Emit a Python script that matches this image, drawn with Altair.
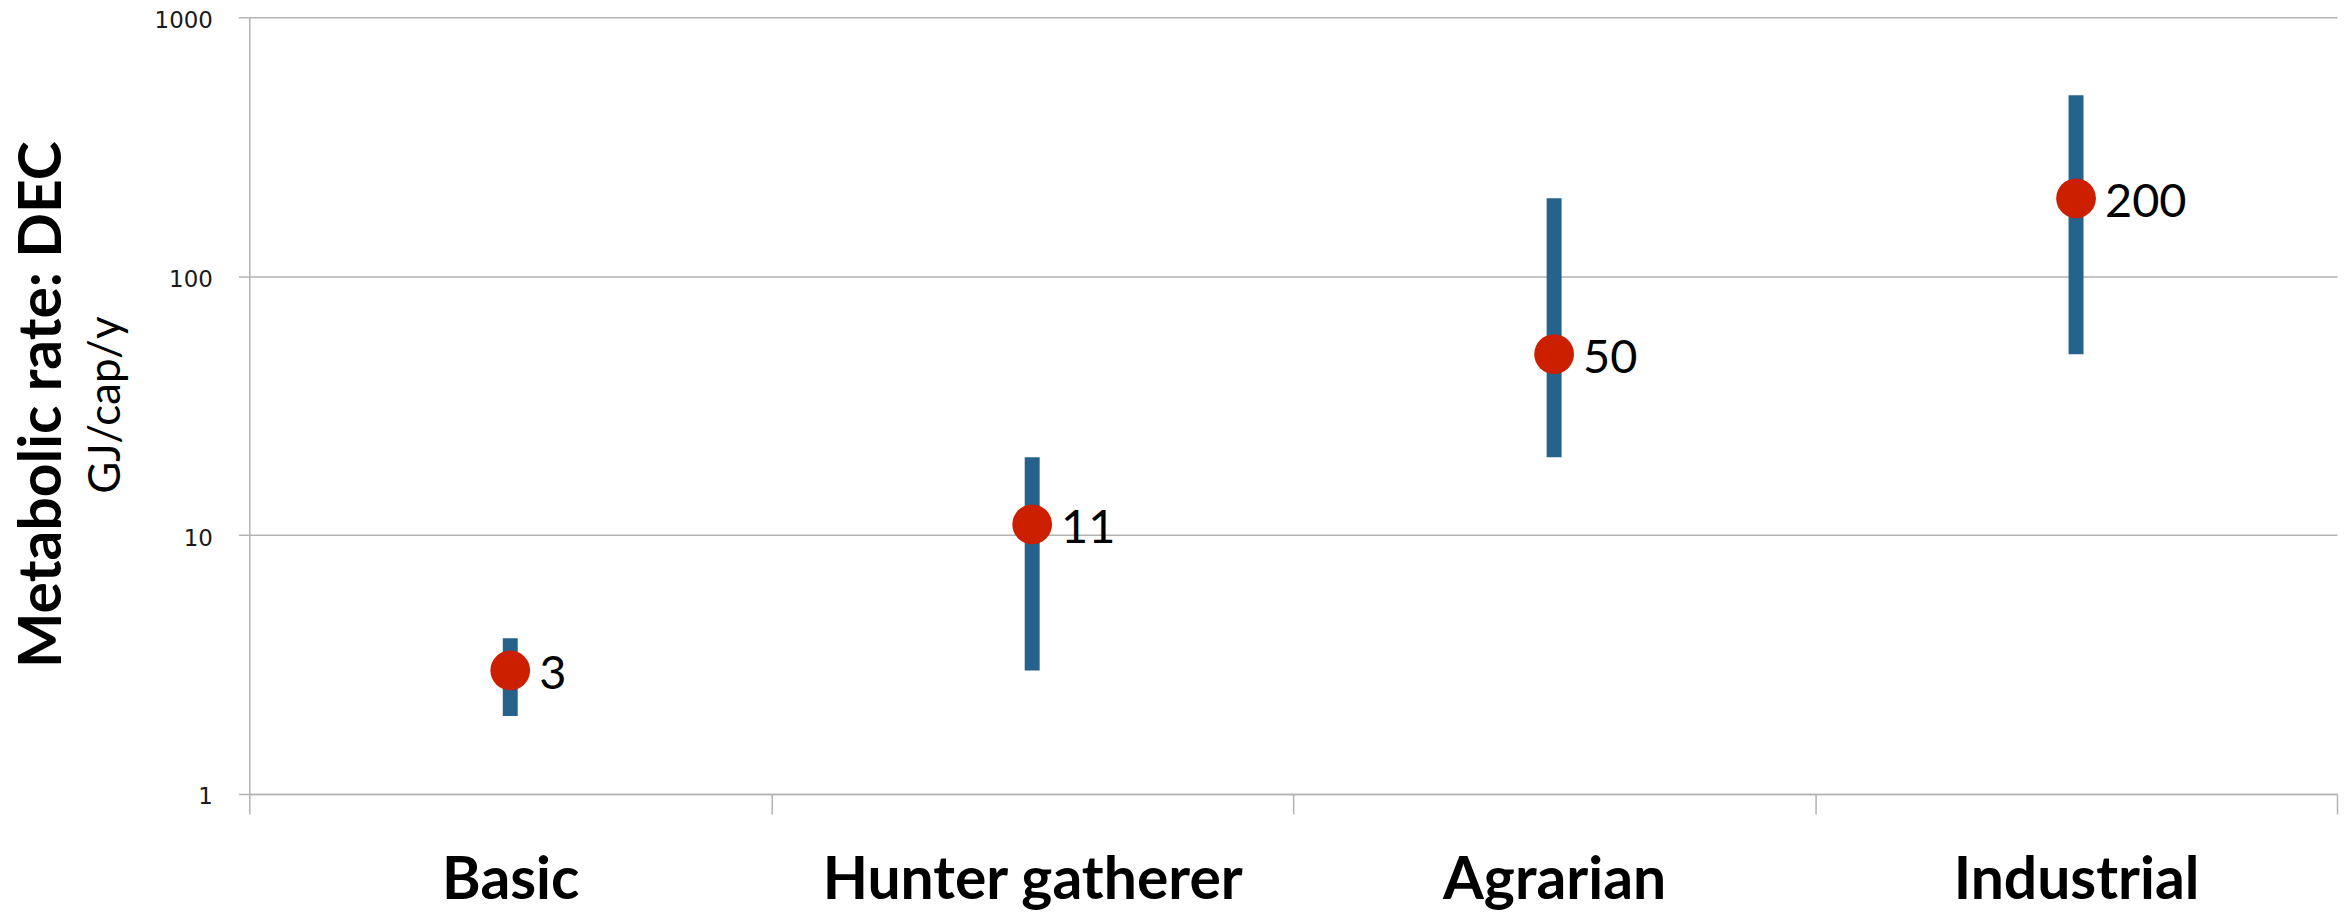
import altair as alt
import pandas as pd

categories = ["Basic", "Hunter gatherer", "Agrarian", "Industrial"]
central = [3, 11, 50, 200]
low = [2, 3, 20, 50]
high = [4, 20, 200, 500]
value_labels = ["3", "11", "50", "200"]
y_ticks = [1, 10, 100, 1000]

df = pd.DataFrame({
    "category": categories,
    "central": central,
    "low": low,
    "high": high,
    "label": value_labels,
})

BLUE = "#26638c"
RED = "#cc1f00"
GRID = "#b3b3b3"

x_enc = alt.X(
    "category:N",
    sort=categories,
    scale=alt.Scale(type="band", paddingInner=0, paddingOuter=0),
    axis=alt.Axis(
        title=None,
        tickBand="extent",
        tickSize=20,
        tickColor=GRID,
        tickWidth=1.5,
        domainColor=GRID,
        domainWidth=1.5,
        grid=False,
        labelFont="Lato",
        labelFontWeight="bold",
        labelFontSize=59,
        labelColor="#000000",
        labelBaseline="alphabetic",
        labelPadding=85,
        labelAngle=0,
        labelLimit=0,
    ),
)

y_scale = alt.Scale(type="log", domain=[1, 1000], nice=False)

bars = alt.Chart(df).mark_rule(color=BLUE, strokeWidth=15, strokeCap="butt").encode(
    x=x_enc,
    y=alt.Y(
        "low:Q",
        scale=y_scale,
        axis=alt.Axis(
            values=y_ticks,
            format="d",
            grid=True,
            gridColor=GRID,
            gridWidth=1.5,
            domainColor=GRID,
            domainWidth=1.5,
            tickColor=GRID,
            tickWidth=1.5,
            tickSize=11,
            labelFont="DejaVu Sans",
            labelFontSize=23,
            labelColor="#1a1a1a",
            labelPadding=26,
            labelBaseline="middle",
            labelOffset=3,
            title="Metabolic rate: DEC",
            titleFont="Lato",
            titleFontWeight="bold",
            titleFontSize=59,
            titleColor="#000000",
            titleAngle=270,
            titleAlign="center",
            titleBaseline="alphabetic",
            titleX=-189,
            titleY=388,
        ),
    ),
    y2="high:Q",
)

points = alt.Chart(df).mark_circle(color=RED, size=1590, opacity=1).encode(
    x=alt.X("category:N", sort=categories),
    y=alt.Y("central:Q", scale=y_scale),
)

labels = alt.Chart(df).mark_text(
    align="left", baseline="middle", dx=29, dy=5, font="Lato", fontSize=47, color="#000000"
).encode(
    x=alt.X("category:N", sort=categories),
    y=alt.Y("central:Q", scale=y_scale),
    text="label:N",
)

subtitle = alt.Chart(pd.DataFrame({"t": ["GJ/cap/y"]})).mark_text(
    angle=270, align="center", baseline="alphabetic", font="Lato", fontSize=44, color="#000000"
).encode(
    x=alt.value(-130),
    y=alt.value(389),
    text="t:N",
)

chart = alt.layer(bars, points, labels, subtitle).properties(
    width=2094,
    height=779,
    autosize=alt.AutoSizeParams(type="none"),
    padding={"left": 242, "top": 8, "right": 6, "bottom": 116},
    background="white",
).configure_view(stroke=None)

chart.save("out.html", embed_options={"renderer": "svg", "actions": False})
